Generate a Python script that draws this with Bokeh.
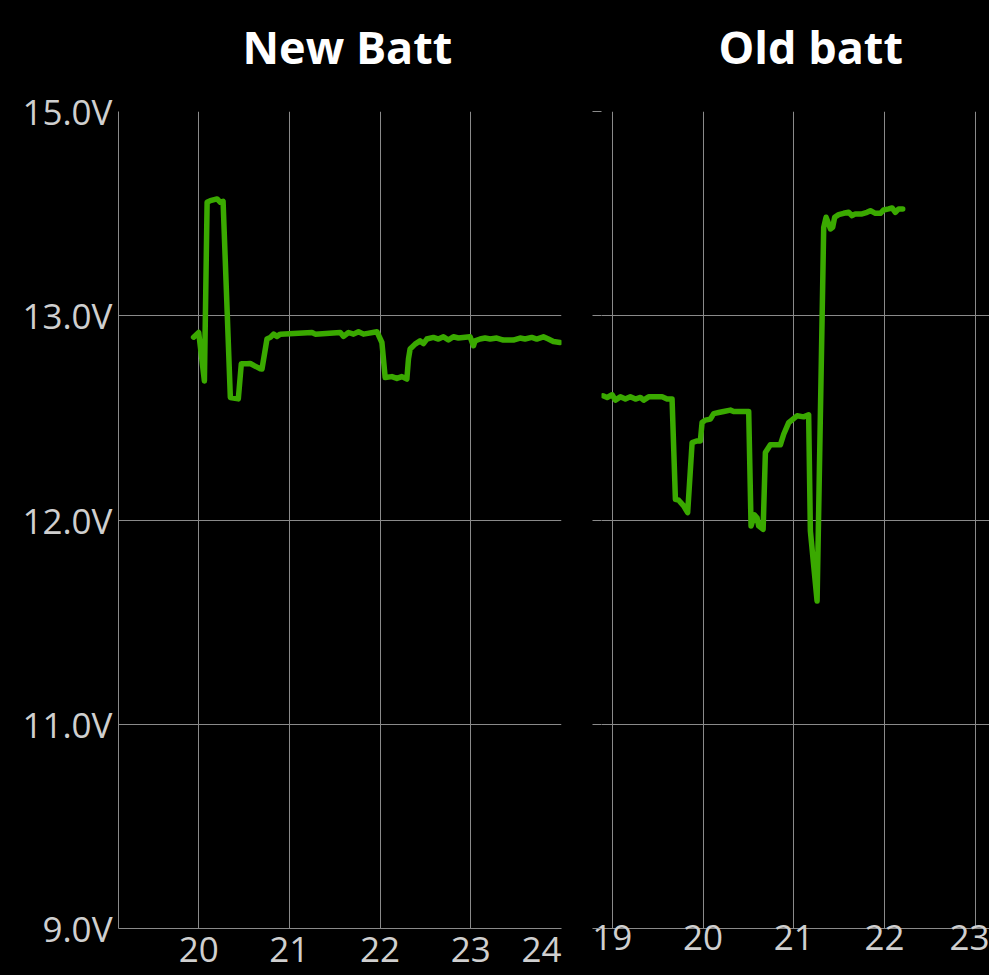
import numpy as np
from bokeh.plotting import figure
from bokeh.layouts import row
from bokeh.models import FixedTicker, LinearAxis
from bokeh.embed import file_html
from bokeh.resources import INLINE

# ---- data (hour of day, battery voltage) ----
new_hours = [19.944, 20.000, 20.063, 20.093, 20.129, 20.203, 20.239, 20.269, 20.349, 20.437,
             20.470, 20.533, 20.569, 20.680, 20.698, 20.753, 20.790, 20.826, 20.863, 20.900,
             21.249, 21.285, 21.561, 21.597, 21.652, 21.707, 21.762, 21.817, 21.965, 22.020,
             22.056, 22.130, 22.185, 22.240, 22.295, 22.313, 22.331, 22.386, 22.441, 22.478,
             22.515, 22.588, 22.643, 22.698, 22.753, 22.808, 22.863, 22.992, 23.029, 23.047,
             23.102, 23.157, 23.213, 23.286, 23.359, 23.469, 23.543, 23.598, 23.672, 23.727,
             23.800, 23.855, 23.910, 23.983]
new_volts = [12.895, 12.918, 12.681, 14.111, 14.127, 14.144, 14.111, 14.121, 12.600, 12.593,
             12.765, 12.765, 12.766, 12.740, 12.739, 12.886, 12.894, 12.910, 12.899, 12.910,
             12.918, 12.910, 12.918, 12.899, 12.918, 12.910, 12.922, 12.910, 12.922, 12.869,
             12.698, 12.702, 12.693, 12.702, 12.690, 12.789, 12.837, 12.861, 12.877, 12.864,
             12.886, 12.894, 12.886, 12.897, 12.881, 12.897, 12.891, 12.897, 12.853, 12.877,
             12.886, 12.891, 12.886, 12.891, 12.881, 12.881, 12.891, 12.886, 12.894, 12.886,
             12.897, 12.886, 12.874, 12.869]

old_hours = [18.897, 18.942, 18.997, 19.033, 19.088, 19.143, 19.198, 19.254, 19.309, 19.345,
             19.400, 19.548, 19.603, 19.658, 19.695, 19.731, 19.786, 19.830, 19.879, 19.934,
             19.970, 19.989, 20.025, 20.080, 20.117, 20.172, 20.227, 20.301, 20.337, 20.503,
             20.529, 20.566, 20.595, 20.613, 20.662, 20.687, 20.742, 20.852, 20.889, 20.944,
             21.036, 21.109, 21.164, 21.183, 21.257, 21.330, 21.356, 21.385, 21.404, 21.429,
             21.451, 21.495, 21.550, 21.605, 21.643, 21.679, 21.753, 21.808, 21.845, 21.900,
             21.955, 21.991, 22.046, 22.084, 22.120, 22.157, 22.201]
old_volts = [12.608, 12.600, 12.613, 12.587, 12.603, 12.592, 12.603, 12.592, 12.600, 12.587,
             12.603, 12.603, 12.592, 12.592, 12.101, 12.097, 12.069, 12.036, 12.379, 12.387,
             12.387, 12.477, 12.489, 12.494, 12.521, 12.526, 12.531, 12.538, 12.531, 12.531,
             11.971, 12.025, 12.011, 11.971, 11.954, 12.330, 12.368, 12.368, 12.420, 12.477,
             12.510, 12.505, 12.515, 11.946, 11.603, 13.866, 13.964, 13.899, 13.850, 13.866,
             13.964, 13.990, 14.003, 14.013, 13.980, 13.997, 13.997, 14.013, 14.029, 14.003,
             14.003, 14.036, 14.046, 14.056, 14.013, 14.046, 14.046]

volt_ticks = [9.0, 11.0, 12.0, 13.0, 15.0]
volt_tick_labels = ["9.0V", "11.0V", "12.0V", "13.0V", "15.0V"]
new_hour_ticks = [20, 21, 22, 23, 24]
old_hour_ticks = [19, 20, 21, 22, 23]
titles = ["New Batt", "Old batt"]

# y axis is spaced evenly by tick, so map volts onto tick slots
slots = list(range(len(volt_ticks)))


def to_slot(v):
    return np.interp(v, volt_ticks, slots)


GRID = "#8a8a8a"
GREEN = "#3aa900"
LABEL = "#cfcfcf"
FONT = "Open Sans"
FS = "35px"


def make_panel(title, hours, volts, hour_ticks, xr, width, bl, br, show_ylabels, toff):
    p = figure(width=width, height=975, x_range=xr, y_range=(0, len(volt_ticks) - 1),
               output_backend="svg", toolbar_location=None,
               min_border_left=bl, min_border_right=br, min_border_top=111,
               min_border_bottom=47)
    p.background_fill_color = "black"
    p.border_fill_color = "black"
    p.outline_line_color = None

    xax = p.below[0]
    yax = p.left[0]

    p.title.text = title
    p.title.text_font = FONT
    p.title.text_font_style = "bold"
    p.title.text_font_size = "45px"
    p.title.text_color = "white"
    p.title.align = "left"
    p.title.offset = toff
    p.title.vertical_align = "bottom"
    p.title.standoff = 0

    xax.ticker = FixedTicker(ticks=hour_ticks)
    yax.ticker = FixedTicker(ticks=slots)
    p.xgrid.ticker = FixedTicker(ticks=hour_ticks)
    p.ygrid.ticker = FixedTicker(ticks=slots)
    p.grid.grid_line_color = GRID
    p.grid.grid_line_width = 1

    for ax in (xax, yax):
        ax.axis_line_color = GRID
        ax.axis_line_width = 1
        ax.major_tick_in = 0
        ax.major_tick_out = 0
        ax.minor_tick_line_color = None
        ax.major_label_text_font = FONT
        ax.major_label_text_font_size = FS
        ax.major_label_text_color = LABEL
    xax.major_label_standoff = -4
    yax.major_label_standoff = 6
    if show_ylabels:
        yax.major_label_overrides = {s: lab for s, lab in zip(slots, volt_tick_labels)}
        # last hour label sits inside the frame edge, as in the reference
        xax.major_label_overrides = {hour_ticks[-1]: str(hour_ticks[-1]) + "\u2007"}
    else:
        yax.axis_line_color = None
        yax.major_tick_out = 9
        yax.major_tick_line_color = GRID
        yax.major_label_overrides = {s: "" for s in slots}
        yax.major_label_standoff = 0

    # invisible spacer axis (hidden ticks, empty labels) between the frame and the title
    spacer = LinearAxis(ticker=FixedTicker(ticks=hour_ticks), axis_line_color=None,
                        major_tick_in=0, major_tick_out=35, major_tick_line_color=None,
                        minor_tick_line_color=None, major_label_standoff=0,
                        major_label_overrides={t: "" for t in hour_ticks})
    p.add_layout(spacer, "above")

    p.line(hours, to_slot(np.array(volts)), line_color=GREEN, line_width=5.5,
           line_join="round", line_cap="round")
    return p


p1 = make_panel(titles[0], new_hours, new_volts, new_hour_ticks, (19.116, 24.0),
                581, 118, 20, True, 124)
p2 = make_panel(titles[1], old_hours, old_volts, old_hour_ticks, (18.88, 23.158),
                408, 20, 0, False, 117)

layout = row(p1, p2)
html = file_html(layout, INLINE)
html = html.replace("</head>", "<style>html,body{background:#000;}</style></head>", 1)
open("out.html", "w").write(html)
